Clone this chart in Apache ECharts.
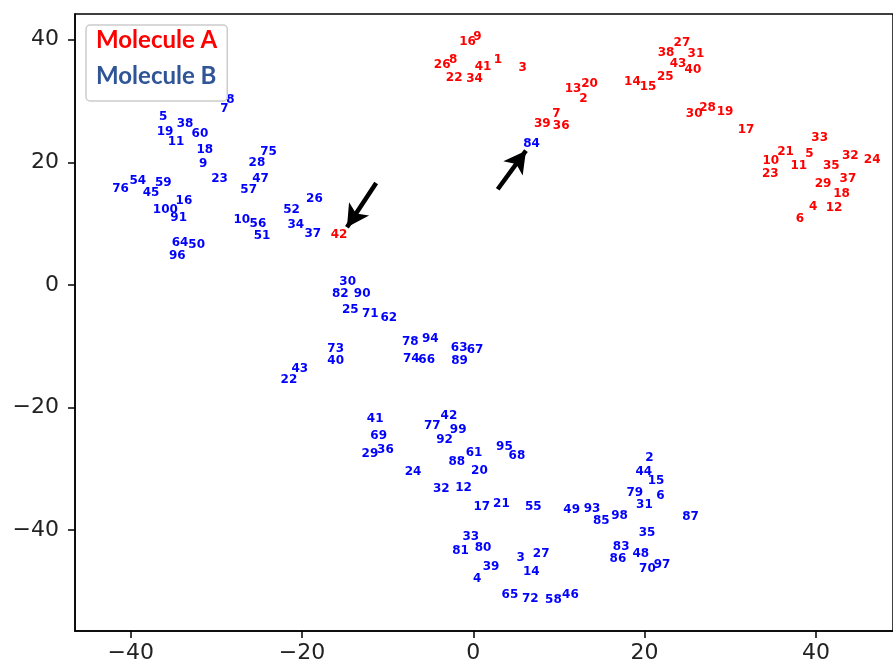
<!DOCTYPE html>
<html style="height: 100%">

<head>
    <meta charset="utf-8">
</head>

<body style="height: 100%;width: 100%;margin: 0;">
    <div id="container" style="width: 893px;height: 668px;"></div>
    <script type="text/javascript" src="https://cdn.jsdelivr.net/npm/echarts@6/dist/echarts.min.js"></script>
    <script type="text/javascript">
        // Molecule A (red labels)
        var idsA = [1, 2, 3, 4, 5, 6, 7, 8, 9, 10, 11, 12, 13, 14, 15, 16, 17, 18, 19, 20, 21, 22,
            23, 24, 25, 26, 27, 28, 29, 30, 31, 32, 33, 34, 35, 36, 37, 38, 39, 40, 41, 42, 43];
        var xA = [2.88, 12.85, 5.76, 39.67, 39.24, 38.12, 9.71, -2.35, 0.49, 34.74, 38.0, 42.12, 11.65,
            18.58, 20.41, -0.67, 31.84, 43.0, 29.40, 13.58, 36.45, -2.23, 34.67, 46.57, 22.42, -3.63,
            24.36, 27.35, 40.84, 25.79, 25.99, 44.01, 40.44, 0.14, 41.80, 10.26, 43.74, 22.50, 8.05,
            25.64, 1.14, -15.67, 23.90];
        var yA = [36.77, 30.40, 35.40, 12.70, 21.31, 10.81, 27.84, 36.77, 40.46, 20.16, 19.40, 12.49,
            31.92, 33.11, 32.24, 39.64, 25.34, 14.82, 28.16, 32.85, 21.68, 33.76, 18.09, 20.33, 33.99,
            35.84, 39.48, 28.87, 16.41, 27.84, 37.68, 21.03, 23.97, 33.60, 19.46, 25.88, 17.27, 37.80,
            26.25, 35.02, 35.56, 8.08, 36.05];

        // Molecule B (blue labels)
        var idsB = [2, 3, 4, 5, 6, 7, 8, 9, 10, 11, 12, 14, 15, 16, 17, 18, 19, 20, 21, 22, 23, 24, 25,
            26, 27, 28, 29, 30, 31, 32, 33, 34, 35, 36, 37, 38, 39, 40, 41, 42, 43, 44, 45, 46, 47, 48,
            49, 50, 51, 52, 54, 55, 56, 57, 58, 59, 60, 61, 62, 63, 64, 65, 66, 67, 68, 69, 70, 71, 72,
            73, 74, 75, 76, 77, 78, 79, 80, 81, 82, 83, 84, 85, 86, 87, 88, 89, 90, 91, 92, 93, 94, 95,
            96, 97, 98, 99, 100];
        var xB = [20.56, 5.52, 0.44, -36.22, 21.84, -29.05, -28.35, -31.53, -27.03, -34.71, -1.14, 6.77,
            21.34, -33.78, 0.99, -31.34, -35.99, 0.72, 3.28, -21.53, -29.63, -7.03, -14.36, -18.55, 7.93,
            -25.26, -12.07, -14.67, 19.98, -3.74, -0.29, -20.72, 20.29, -10.26, -18.74, -33.66, 2.07,
            -16.07, -11.45, -2.85, -20.26, 19.91, -37.62, 11.34, -24.83, 19.56, 11.49, -32.30, -24.67,
            -21.22, -39.16, 7.00, -25.14, -26.22, 9.36, -36.19, -31.92, 0.09, -9.86, -1.65, -34.24, 4.28,
            -5.44, 0.21, 5.09, -11.05, 20.33, -12.03, 6.65, -16.07, -7.23, -23.90, -41.19, -4.79, -7.35,
            18.86, 1.14, -1.49, -15.52, 17.27, 6.80, 14.94, 16.88, 25.37, -1.92, -1.60, -12.97, -34.40,
            -3.35, 13.86, -5.02, 3.63, -34.56, 22.03, 17.07, -1.77, -35.95];
        var yB = [-28.21, -44.60, -48.03, 27.46, -34.37, 28.65, 30.17, 19.67, 10.53, 23.27, -33.22, -46.89,
            -31.97, 13.68, -36.28, 21.96, 25.01, -30.33, -35.72, -15.48, 17.27, -30.50, -4.16, 13.96,
            -43.89, 19.95, -27.62, 0.52, -35.84, -33.34, -41.18, 9.83, -40.41, -26.91, 8.36, 26.29,
            -45.96, -12.44, -21.84, -21.36, -13.75, -30.45, 14.99, -50.53, 17.27, -43.89, -36.70, 6.45,
            8.03, 12.28, 16.90, -36.28, 9.88, 15.54, -51.35, 16.62, 24.70, -27.46, -5.42, -10.32, 6.89,
            -50.53, -12.21, -10.69, -27.89, -24.73, -46.33, -4.82, -51.23, -10.53, -12.11, 21.63, 15.71,
            -23.10, -9.27, -33.93, -42.91, -43.40, -1.44, -42.69, 22.94, -38.56, -44.65, -37.80, -28.82,
            -12.49, -1.44, 10.91, -25.27, -36.62, -8.78, -26.42, 4.77, -45.68, -37.63, -23.71, 12.16];

        var xTicks = [-40, -20, 0, 20, 40];
        var yTicks = [-40, -20, 0, 20, 40];

        // arrows: [tailX, tailY, tipX, tipY]
        var arrows = [
            [-11.34, 16.62, -14.75, 9.4],
            [2.85, 15.59, 6.15, 21.9]
        ];

        function pts(ids, xs, ys) {
            return ids.map(function (id, i) { return [xs[i], ys[i], id]; });
        }

        function tickFmt(v) {
            return String(v).replace('-', '\u2212');
        }

        function labelSeries(name, data, color) {
            return {
                name: name,
                type: 'scatter',
                data: data,
                symbolSize: 1,
                itemStyle: { color: 'rgba(0,0,0,0)', opacity: 1 },
                emphasis: { disabled: true },
                label: {
                    show: true,
                    position: 'inside',
                    formatter: function (p) { return p.data[2]; },
                    color: color,
                    opacity: 1,
                    fontFamily: 'DejaVu Sans',
                    fontWeight: 'bold',
                    fontSize: 12
                }
            };
        }

        var dom = document.getElementById("container");
        var myChart = echarts.init(dom);
        var option = null;

        var seriesB = labelSeries('Molecule B', pts(idsB, xB, yB), '#0000ff');
        seriesB.markLine = {
            silent: true,
            animation: false,
            symbol: ['none', 'arrow'],
            symbolSize: [18, 22],
            label: { show: false },
            lineStyle: { color: '#000', width: 4.5, type: 'solid', opacity: 1 },
            data: arrows.map(function (a) {
                return [{ coord: [a[0], a[1]] }, { coord: [a[2], a[3]] }];
            })
        };

        option = {
            animation: false,
            grid: {
                left: 75,
                top: 14,
                right: -3,
                bottom: 37,
                show: true,
                borderColor: '#000',
                borderWidth: 1.5,
                backgroundColor: '#fff'
            },
            legend: {
                orient: 'vertical',
                left: 86,
                top: 25,
                icon: 'none',
                itemWidth: 0,
                itemHeight: 23,
                itemGap: 12,
                selectedMode: false,
                padding: [3, 10, 13, 5],
                backgroundColor: '#fff',
                borderColor: '#cccccc',
                borderWidth: 1.5,
                borderRadius: 4,
                textStyle: { fontFamily: 'Lato', fontWeight: 'bold', fontSize: 24 },
                data: [
                    { name: 'Molecule A', textStyle: { color: '#ff0000' } },
                    { name: 'Molecule B', textStyle: { color: '#2f5597' } }
                ]
            },
            xAxis: {
                type: 'value',
                min: -46.5,
                max: 49,
                splitLine: { show: false },
                axisLine: { onZero: false, lineStyle: { color: '#000', width: 1.5 } },
                axisTick: { length: 7, lineStyle: { color: '#000', width: 1.5 }, customValues: xTicks },
                axisLabel: {
                    customValues: xTicks,
                    formatter: tickFmt,
                    margin: 11,
                    color: '#222',
                    fontFamily: 'DejaVu Sans',
                    fontSize: 22
                }
            },
            yAxis: {
                type: 'value',
                min: -56.5,
                max: 44.2,
                splitLine: { show: false },
                axisLine: { onZero: false, lineStyle: { color: '#000', width: 1.5 } },
                axisTick: { length: 7, lineStyle: { color: '#000', width: 1.5 }, customValues: yTicks },
                axisLabel: {
                    customValues: yTicks,
                    formatter: tickFmt,
                    margin: 16,
                    color: '#222',
                    fontFamily: 'DejaVu Sans',
                    fontSize: 22
                }
            },
            series: [
                labelSeries('Molecule A', pts(idsA, xA, yA), '#ff0000'),
                seriesB
            ]
        };

        if (option && typeof option === "object") {
            myChart.setOption(option, true);
            window.onresize = myChart.resize;
        }
    </script>
</body>

</html>
